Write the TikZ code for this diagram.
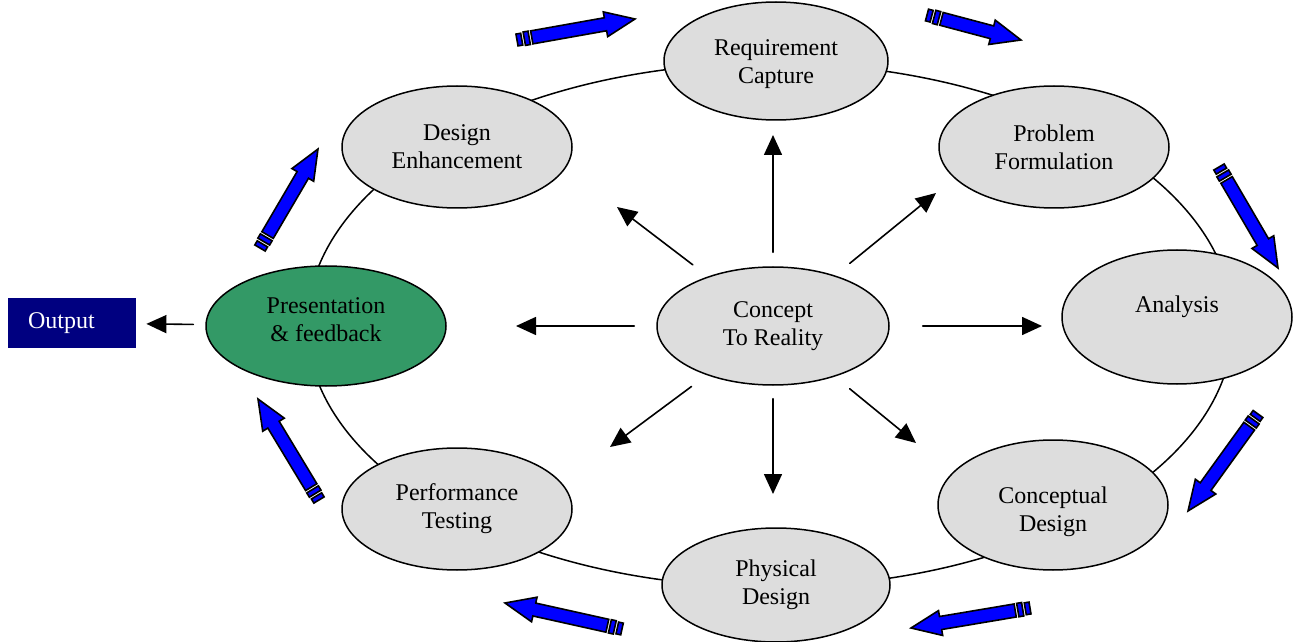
\documentclass[tikz,border=0pt]{standalone}
\usepackage{fontspec}
\setmainfont{Liberation Serif}
\usetikzlibrary{shapes.geometric,arrows.meta}
\definecolor{stagegray}{HTML}{DDDDDD}
\definecolor{feedgreen}{HTML}{339966}
\definecolor{outnavy}{HTML}{000080}
\begin{document}
\begin{tikzpicture}[x=.5pt, y=-.5pt, font=\fontsize{12}{14}\selectfont, line join=round, line cap=round,
	stage/.style={ellipse, draw, fill=stagegray, line width=.75pt, minimum width=115pt, minimum height=61pt, inner sep=0pt, align=center},
	spoke/.style={-{Triangle[length=10pt,width=9pt]}, line width=.8pt},
	flowline/.style={fill=blue, draw=black, line width=.8pt, line join=miter}]
	\useasboundingbox (0,0) rectangle (1298,642);
	\tikzset{flow/.pic={
			\pgfmathsetmacro\neck{#1-15}
			\filldraw[flowline] (0pt,-3pt) rectangle (2.4pt,3pt);
			\filldraw[flowline] (3.7pt,-3.4pt) rectangle (6.2pt,3.4pt);
			\filldraw[flowline] (7.5pt,-3.3pt) -- (\neck pt,-3.3pt) -- (\neck pt,-6.3pt) -- (#1pt,0pt) -- (\neck pt,6.3pt) -- (\neck pt,3.3pt) -- (7.5pt,3.3pt) -- cycle;
	}}
	\draw[line width=.75pt] (770,325) ellipse [x radius=463, y radius=262];
	\foreach \xa/\ya/\xb/\yb in {517/40/635/19, 927/15/1021/40, 1219/167/1278/268, 1258/414/1188/511, 1030/608/911/628, 622/629/505/603, 319/500/258/399, 260/248/318/149}{
		\pgfmathsetmacro\ang{atan2(\ya-\yb,\xb-\xa)}
		\pgfmathsetmacro\len{veclen(\xb-\xa,\yb-\ya)/2}
		\path (\xa,\ya) pic[rotate=\ang]{flow=\len};
	}
	\node[stage, minimum width=112pt, minimum height=59pt] (req) at (776,61) {\rule{0pt}{11.5pt}Requirement\\Capture};
	\node[stage] (prob) at (1054,147) {Problem\\Formulation};
	\node[stage, minimum height=67pt, text depth=12.5pt] (ana) at (1177,317) {Analysis};
	\node[stage, minimum height=65pt] (cdes) at (1053,505) {\rule{0pt}{15.5pt}Conceptual\\Design};
	\node[stage, minimum width=114pt, minimum height=57pt] (phys) at (776,585) {Physical\\Design};
	\node[stage] (perf) at (457,509) {Performance\\Testing};
	\node[stage, fill=feedgreen, minimum width=120pt, minimum height=60pt] (pres) at (326,326) {Presentation\\\& feedback\rule[-6.2pt]{0pt}{0pt}};
	\node[stage] (denh) at (457,147) {Design\\Enhancement};
	\node[stage, minimum width=116pt, minimum height=59pt] (ctr) at (773,326) {Concept\\To Reality};
	\node[fill=outnavy, text=white, minimum height=25pt, text width=44pt, inner xsep=10pt, align=left] (out) at (72,323) {Output};
	\coordinate (tN) at (773,135);
	\coordinate (tNE) at (936,193);
	\coordinate (tE) at (1042,326);
	\coordinate (tSE) at (916,443);
	\coordinate (tS) at (773,494);
	\coordinate (tSW) at (610,447);
	\coordinate (tW) at (516,326);
	\coordinate (tNW) at (617,207);
	\draw[spoke, shorten <=7pt] (ctr) -- (tN);
	\draw[spoke, shorten <=9.5pt] (ctr) -- (tNE);
	\draw[spoke, shorten <=16.5pt] (ctr) -- (tE);
	\draw[spoke, shorten <=9.5pt] (ctr) -- (tSE);
	\draw[spoke, shorten <=6.5pt] (ctr) -- (tS);
	\draw[spoke, shorten <=9.5pt] (ctr) -- (tSW);
	\draw[spoke, shorten <=11pt] (ctr) -- (tW);
	\draw[spoke, shorten <=9.5pt] (ctr) -- (tNW);
	\draw[spoke, shorten <=6pt, shorten >=5pt] (pres) -- (out);
\end{tikzpicture}
\end{document}
